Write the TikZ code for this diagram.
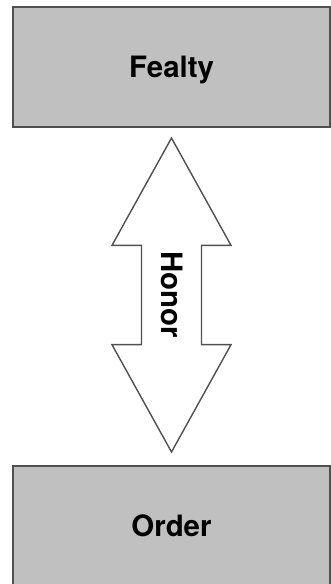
\documentclass[tikz,border=0pt]{standalone}
\usepackage{fontspec}
\setmainfont{TeX Gyre Heros}
\usetikzlibrary{shapes.arrows}

\definecolor{boxgray}{HTML}{C0C0C0}
\definecolor{edgegray}{HTML}{505050}

\begin{document}
\begin{tikzpicture}[
    x=1pt, y=-1pt,
    label font/.style={
        font=\fontsize{29.4}{35}\selectfont\bfseries,
        text height=21pt,
        text depth=0pt
    },
    box/.style={
        draw=edgegray,
        fill=boxgray,
        line width=2pt,
        minimum width=317pt,
        minimum height=120pt,
        inner sep=0pt,
        label font
    },
    twoway/.style={
        double arrow,
        draw=edgegray,
        fill=white,
        line width=1.4pt,
        rotate=-90,
        minimum height=314pt,
        double arrow head extend=29.5pt,
        double arrow tip angle=58,
        inner xsep=0pt,
        inner ysep=18.8pt,
        label font
    }
]
\useasboundingbox (0,0) rectangle (331,584);
\clip (0,0) rectangle (331,584);

% top box
\node[box] (fealty) at (171.5,67) {Fealty};

% bottom box, runs off the page
\node[box] (order) at (171.5,526) {Order};

% arrow between them
\node[twoway] (honor) at (171.5,295) {Honor};

\end{tikzpicture}
\end{document}
